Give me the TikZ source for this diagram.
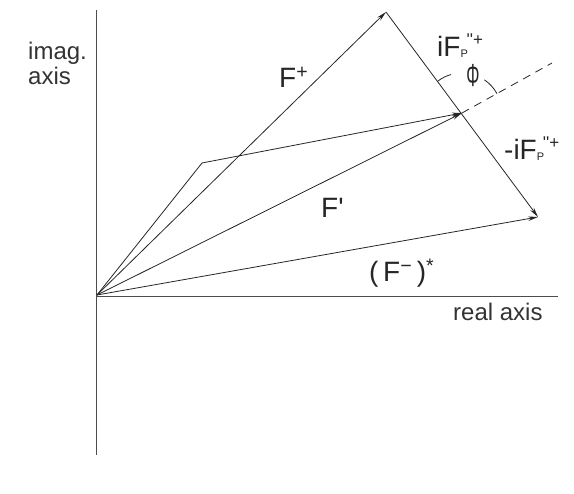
\documentclass[tikz,border=0pt]{standalone}
\usepackage{fontspec}
\setmainfont{Liberation Sans}
\usetikzlibrary{arrows.meta}
\newcommand{\dprime}{\textquotesingle\textquotesingle}
\newcommand{\FPpp}{F\rlap{\raisebox{-1pt}{\fontsize{11}{11}\selectfont P}}\hspace{6pt}\raisebox{11pt}{\fontsize{17}{17}\selectfont\dprime+}}

\begin{document}
\begin{tikzpicture}[x=1pt, y=1pt,
    vec/.style={line width=0.8pt, draw=black!85, -{Stealth[length=10pt, width=4.5pt]}},
    axisline/.style={line width=0.9pt, draw=black!70},
    bigf/.style={font=\fontsize{28}{28}\selectfont, inner sep=0pt, text=black!85},
    axlbl/.style={font=\fontsize{24}{24}\selectfont, inner sep=0pt, text=black!80}]
  \useasboundingbox (0,0) rectangle (574,-494);
  % points of the diagram
  \coordinate (O) at (97,-295);
  \coordinate (A) at (386,-12);
  \coordinate (P) at (462,-113);
  \coordinate (B) at (538,-217);
  \coordinate (K) at (202,-163);
  \coordinate (D) at (552,-63);
  % axes
  \coordinate (ytop) at (96,-10);
  \coordinate (ybot) at (96,-455);
  \coordinate (xbeg) at (96,-296);
  \coordinate (xend) at (558,-296);
  \draw[axisline] (ytop) -- (ybot);
  \draw[axisline] (xbeg) -- (xend);
  \node[axlbl, anchor=base west] (imag) at (28,-60) {imag.};
  \node[axlbl, anchor=base west] (axis) at (28,-85) {axis};
  \node[axlbl, anchor=base west] (real) at (453,-321) {real axis};
  % vectors
  \draw[vec] (O) -- (A);
  \draw[vec] (O) -- (P);
  \draw[vec] (O) -- (K) -- (P);
  \draw[vec] (A) -- (B);
  \draw[vec] (O) -- (B);
  \draw[line width=0.8pt, draw=black!85, dash pattern=on 8pt off 6pt] (P) -- (D);
  % angle phi
  \draw[line width=0.8pt, draw=black!85] ([shift={(127:40)}]P) arc[start angle=127, end angle=106, radius=40];
  \draw[line width=0.8pt, draw=black!85] ([shift={(56:40)}]P) arc[start angle=56, end angle=29, radius=40];
  \node[inner sep=0pt, font=\fontsize{22}{22}\selectfont, text=black!85] (phi) at (473,-76) {\scalebox{0.75}[1.45]{Φ}};
  % labels
  \node[bigf, anchor=base west] (Fplus) at (279,-88) {F\textsuperscript{+}};
  \node[bigf, anchor=base west] (Fprime) at (321,-218) {F\textquotesingle};
  \node[bigf, anchor=base west] (Fminus) at (369,-282) {(\,F\textsuperscript{−}\,)\textsuperscript{*}};
  \node[bigf, anchor=base west] (iF) at (437,-57) {i\FPpp};
  \node[bigf, anchor=base west] (miF) at (504,-160) {-i\FPpp};
\end{tikzpicture}
\end{document}
